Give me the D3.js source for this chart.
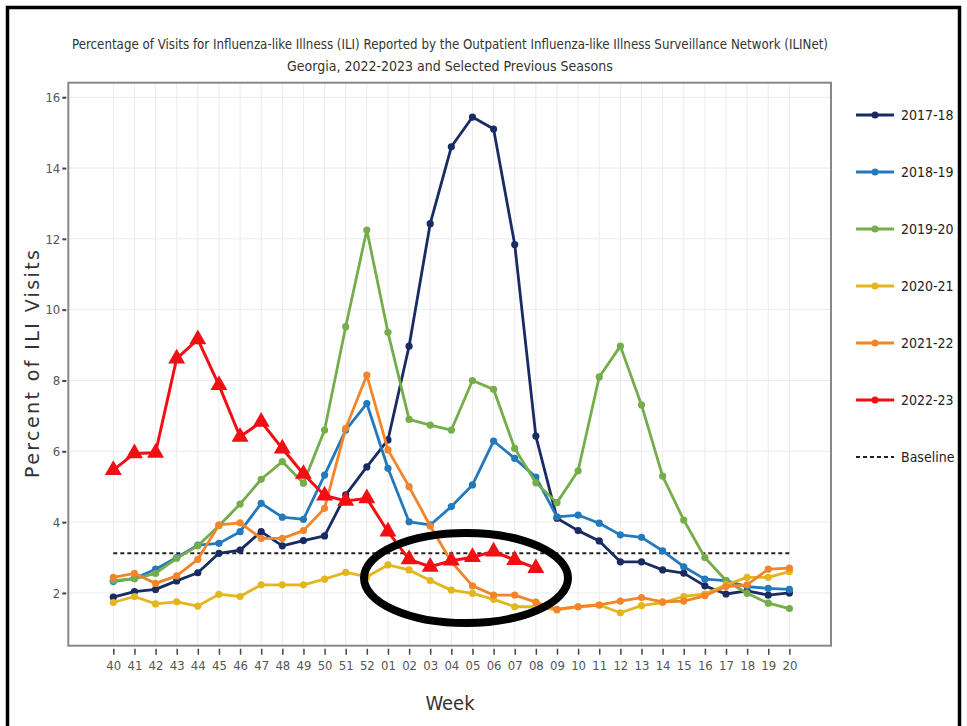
<!DOCTYPE html>
<html><head><meta charset="utf-8">
<script src="https://cdn.jsdelivr.net/npm/d3@7"></script>
<style>
html,body{margin:0;padding:0;background:#fff;}
svg{display:block;}
.cond{font-family:"Liberation Sans Narrow","DejaVu Sans Condensed","Arial Narrow",sans-serif;}
</style></head>
<body>
<svg id="chart" width="967" height="726"></svg>
<script>
const weeks = ["40","41","42","43","44","45","46","47","48","49","50","51","52","01","02","03","04","05","06","07","08","09","10","11","12","13","14","15","16","17","18","19","20"];
const yTicks = [2,4,6,8,10,12,14,16];
const seasonNames = ["2017-18","2018-19","2019-20","2020-21","2021-22","2022-23"];
const s1718 = [1.88,2.04,2.1,2.34,2.57,3.12,3.21,3.73,3.33,3.48,3.61,4.77,5.56,6.32,8.97,12.43,14.6,15.44,15.1,11.84,6.43,4.11,3.76,3.47,2.88,2.88,2.65,2.56,2.2,1.97,2.06,1.94,2.0];
const s1819 = [2.32,2.41,2.67,3.0,3.35,3.4,3.73,4.53,4.14,4.08,5.33,6.6,7.35,5.52,4.01,3.92,4.44,5.05,6.29,5.8,5.27,4.15,4.2,3.97,3.64,3.57,3.19,2.74,2.39,2.35,2.18,2.13,2.1];
const s1920 = [2.35,2.4,2.55,2.98,3.33,3.9,4.51,5.21,5.71,5.1,6.6,9.52,12.25,9.36,6.9,6.74,6.6,8.0,7.75,6.08,5.11,4.55,5.45,8.1,8.97,7.31,5.3,4.06,3.0,2.35,1.99,1.71,1.56];
const s2021 = [1.73,1.9,1.69,1.75,1.63,1.96,1.9,2.23,2.23,2.23,2.39,2.58,2.46,2.79,2.65,2.35,2.08,1.99,1.82,1.61,1.61,1.52,1.61,1.66,1.44,1.64,1.73,1.9,1.97,2.23,2.44,2.44,2.6];
const s2122 = [2.44,2.55,2.27,2.48,2.95,3.92,3.98,3.54,3.54,3.76,4.39,6.65,8.15,6.04,5.0,3.89,2.88,2.2,1.94,1.94,1.74,1.54,1.61,1.66,1.77,1.87,1.75,1.77,1.92,2.18,2.23,2.67,2.7];
const s2223 = [5.47,5.94,5.96,8.62,9.16,7.87,6.41,6.83,6.08,5.36,4.75,4.6,4.67,3.73,2.95,2.74,2.91,3.01,3.17,2.93,2.7];
const baseline = 3.12;
const colors = ["#182b62","#2479bd","#74ad4a","#e3b51f","#f2852c","#f20f14"];

const seriesList = [s1718,s1819,s1920,s2021,s2122,s2223];

const svg = d3.select("#chart");
const L = 68.3, R = 831, T = 82.7, B = 645.7;

// outer frame
svg.append("rect").attr("x",7.5).attr("y",7.5).attr("width",952).attr("height",740)
  .attr("fill","none").attr("stroke","#000").attr("stroke-width",3.5);

const x = d3.scaleLinear().domain([-2.13, 33.97]).range([L, R]);
const y = d3.scaleLinear().domain([0.51, 16.41]).range([B, T]);

// grid
const g = svg.append("g");
g.selectAll(".vg").data(weeks).join("line")
  .attr("x1",(d,i)=>x(i)).attr("x2",(d,i)=>x(i)).attr("y1",T).attr("y2",B)
  .attr("stroke","#ebebeb").attr("stroke-width",1);
g.selectAll(".hg").data(yTicks).join("line")
  .attr("x1",L).attr("x2",R).attr("y1",d=>y(d)).attr("y2",d=>y(d))
  .attr("stroke","#ebebeb").attr("stroke-width",1);

// axes
const yAxis = d3.axisLeft(y).tickValues(yTicks).tickSize(4).tickPadding(2).tickFormat(d3.format("d"));
const yg = svg.append("g").attr("transform",`translate(${L-2},0)`).call(yAxis);
yg.select(".domain").remove();
yg.selectAll(".tick line").attr("stroke","#444").attr("stroke-width",2);
yg.selectAll(".tick text").attr("class","cond").attr("font-size",13).attr("fill","#555");

const xAxis = d3.axisBottom(x).tickValues(d3.range(weeks.length)).tickFormat(i=>weeks[i]).tickSize(6).tickPadding(6);
const xg = svg.append("g").attr("transform",`translate(0,${B+3})`).call(xAxis);
xg.select(".domain").remove();
xg.selectAll(".tick line").attr("stroke","#444").attr("stroke-width",1.5);
xg.selectAll(".tick text").attr("class","cond").attr("font-size",13).attr("fill","#555");

// plot border
svg.append("rect").attr("x",L).attr("y",T).attr("width",R-L).attr("height",B-T)
  .attr("fill","none").attr("stroke","#888").attr("stroke-width",2);

// baseline
svg.append("line").attr("x1",x(0)).attr("x2",x(weeks.length-1))
  .attr("y1",y(baseline)).attr("y2",y(baseline))
  .attr("stroke","#222").attr("stroke-width",2).attr("stroke-dasharray","4,3");

const line = d3.line().x((d,i)=>x(i)).y(d=>y(d));
seriesList.forEach((s,k)=>{
  const c = colors[k];
  svg.append("path").datum(s).attr("d",line).attr("fill","none")
    .attr("stroke",c).attr("stroke-width",k===5?3:2.8).attr("stroke-linejoin","round");
  if(k<5){
    svg.append("g").selectAll("circle").data(s).join("circle")
      .attr("cx",(d,i)=>x(i)).attr("cy",d=>y(d)).attr("r",3.6).attr("fill",c);
  } else {
    const tri = d3.symbol().type(d3.symbolTriangle).size(125);
    svg.append("g").selectAll("path").data(s).join("path")
      .attr("d",tri).attr("transform",(d,i)=>`translate(${x(i)},${y(d)})`).attr("fill",c);
  }
});

// legend
const legY0 = 115, legStep = 57;
seasonNames.forEach((n,k)=>{
  const yy = legY0 + k*legStep;
  svg.append("line").attr("x1",856).attr("x2",894).attr("y1",yy).attr("y2",yy)
    .attr("stroke",colors[k]).attr("stroke-width",3);
  svg.append("circle").attr("cx",875).attr("cy",yy).attr("r",3.5).attr("fill",colors[k]);
  svg.append("text").attr("class","cond").attr("x",901).attr("y",yy+5)
    .attr("font-size",14).attr("fill","#222").text(n);
});
{
  const yy = legY0 + 6*legStep;
  svg.append("line").attr("x1",856).attr("x2",894).attr("y1",yy).attr("y2",yy)
    .attr("stroke","#222").attr("stroke-width",2).attr("stroke-dasharray","4,3");
  svg.append("text").attr("class","cond").attr("x",901).attr("y",yy+5)
    .attr("font-size",14).attr("fill","#222").text("Baseline");
}

// titles
svg.append("text").attr("class","cond").attr("x",450).attr("y",49).attr("text-anchor","middle")
  .attr("font-size",14).attr("fill","#333")
  .attr("textLength",756).attr("lengthAdjust","spacingAndGlyphs")
  .text("Percentage of Visits for Influenza-like Illness (ILI) Reported by the Outpatient Influenza-like Illness Surveillance Network (ILINet)");
svg.append("text").attr("class","cond").attr("x",450).attr("y",71).attr("text-anchor","middle")
  .attr("font-size",14).attr("fill","#333")
  .text("Georgia, 2022-2023 and Selected Previous Seasons");

svg.append("text").attr("x",450).attr("y",710).attr("class","cond").attr("text-anchor","middle")
  .attr("font-size",20).attr("fill","#333").text("Week");
svg.append("text").attr("transform","translate(39,364) rotate(-90)").attr("text-anchor","middle")
  .attr("font-family","DejaVu Sans, Verdana, sans-serif").attr("font-size",19).attr("fill","#333")
  .attr("textLength",228).attr("lengthAdjust","spacing")
  .text("Percent of ILI Visits");

// annotation ellipse
svg.append("ellipse").attr("cx",466).attr("cy",578).attr("rx",102).attr("ry",45)
  .attr("fill","none").attr("stroke","#000").attr("stroke-width",8);
</script>
</body></html>
